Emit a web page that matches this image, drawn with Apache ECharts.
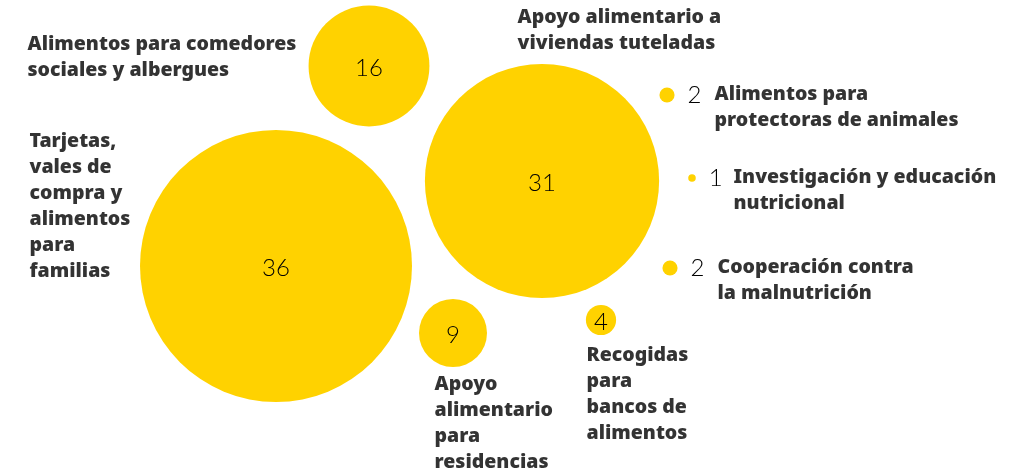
<!DOCTYPE html>
<html>
<head>
<meta charset="utf-8">
<script src="https://cdn.jsdelivr.net/npm/echarts@6/dist/echarts.min.js"></script>
<style>
  html, body { margin: 0; padding: 0; background: #fff; }
  #main { width: 1015px; height: 474px; }
</style>
</head>
<body>
<div id="main"></div>
<script>
  // categorias y valores (numero de proyectos)
  var categories = [
    'Tarjetas,\nvales de\ncompra y\nalimentos\npara\nfamilias',
    'Apoyo alimentario a\nviviendas tuteladas',
    'Alimentos para comedores\nsociales y albergues',
    'Apoyo\nalimentario\npara\nresidencias',
    'Recogidas\npara\nbancos de\nalimentos',
    'Alimentos para\nprotectoras de animales',
    'Cooperación contra\nla malnutrición',
    'Investigación y educación\nnutricional'
  ];
  var values = [36, 31, 16, 9, 4, 2, 2, 1];

  /* disposicion de las burbujas (coordenadas del lienzo) */
  var bubbleX = [276, 542, 369, 453, 601, 667, 670, 692];
  var bubbleY = [266, 181, 66, 333, 320, 95, 268, 178];
  var nameX = [30, 518, 28, 435, 587, 715, 718, 734];
  var nameY = [129, 5, 32, 372, 343, 82, 255, 165];

  var YELLOW = '#FFD200';
  var sizePerUnit = 272 / 36; // diametro proporcional al valor

  var bubbleData = [];
  var nameData = [];
  for (var i = 0; i < values.length; i++) {
    var small = values[i] <= 2;
    bubbleData.push({
      value: [bubbleX[i], bubbleY[i], values[i]],
      label: small ? { position: 'right', distance: 13 } : { position: 'inside', offset: [0, 2] }
    });
    nameData.push({ value: [nameX[i], nameY[i]], name: categories[i] });
  }

  var chart = echarts.init(document.getElementById('main'));
  chart.setOption({
    animation: false,
    grid: { left: 0, right: 0, top: 0, bottom: 0 },
    xAxis: { type: 'value', min: 0, max: 1015, show: false },
    yAxis: { type: 'value', min: 0, max: 474, inverse: true, show: false },
    series: [
      {
        type: 'scatter',
        silent: true,
        data: bubbleData,
        symbolSize: function (v) { return v[2] * sizePerUnit; },
        itemStyle: { color: YELLOW, opacity: 1 },
        label: {
          show: true,
          formatter: function (p) { return p.value[2]; },
          color: '#000',
          fontFamily: 'Lato',
          fontWeight: 300,
          fontSize: 24
        }
      },
      {
        type: 'scatter',
        silent: true,
        data: nameData,
        symbolSize: 1,
        itemStyle: { color: 'rgba(0,0,0,0)' },
        label: {
          show: true,
          position: [0, 0],
          align: 'left',
          verticalAlign: 'top',
          formatter: function (p) { return p.name; },
          color: '#000',
          textBorderWidth: 0,
          fontFamily: 'Noto Sans',
          fontWeight: 900,
          fontSize: 19.5,
          lineHeight: 26
        }
      }
    ]
  });
</script>
</body>
</html>
